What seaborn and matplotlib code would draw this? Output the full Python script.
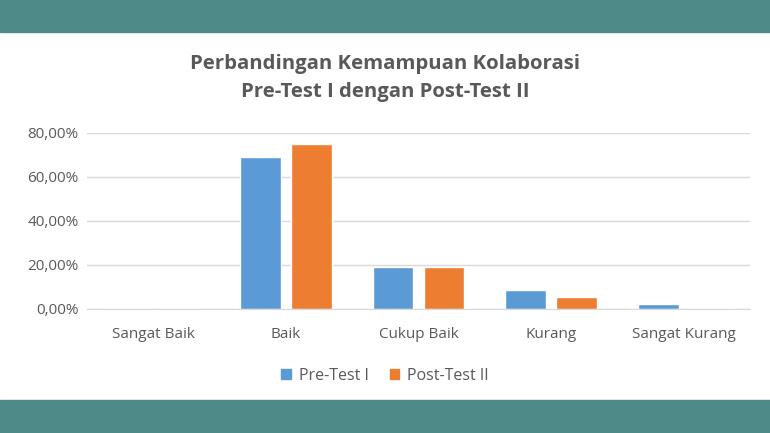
import matplotlib.pyplot as plt
import matplotlib.patches as mpatches
from matplotlib.ticker import FuncFormatter
import pandas as pd
import seaborn as sns

# data (fractions)
categories = ["Sangat Baik", "Baik", "Cukup Baik", "Kurang", "Sangat Kurang"]
pre_test = [0.0, 0.69, 0.19, 0.085, 0.025]
post_test = [0.0, 0.75, 0.19, 0.055, 0.0]
series_names = ["Pre-Test I", "Post-Test II"]

df = pd.DataFrame({
    "Kategori": categories * 2,
    "Nilai": pre_test + post_test,
    "Tes": [series_names[0]] * len(categories) + [series_names[1]] * len(categories),
})

sns.set_style("white")
plt.rcParams['font.family'] = ['Open Sans', 'DejaVu Sans']

teal = "#4E8A87"
text_gray = "#595959"
colors = {"Pre-Test I": "#5B9BD5", "Post-Test II": "#ED7D31"}

fig = plt.figure(figsize=(7.7, 4.33), dpi=100)
fig.patch.set_facecolor("white")
# teal bands top and bottom
fig.patches.append(mpatches.Rectangle((0, 1 - 32 / 433), 1, 32 / 433, transform=fig.transFigure,
                                      color=teal, zorder=0))
fig.patches.append(mpatches.Rectangle((0, 0), 1, 33 / 433, transform=fig.transFigure,
                                      color=teal, zorder=0))

ax = fig.add_axes([87 / 770, 1 - 309 / 433, (750 - 87) / 770, 176 / 433])
sns.barplot(data=df, x="Kategori", y="Nilai", hue="Tes", palette=colors,
            width=0.77, gap=0.2, ax=ax, legend=False, saturation=1)

ax.set_ylim(0, 0.8)
ax.set_yticks([0, 0.2, 0.4, 0.6, 0.8])
ax.yaxis.set_major_formatter(FuncFormatter(lambda v, p: f"{v * 100:.2f}%".replace(".", ",")))
ax.grid(axis="y", color="#D9D9D9", linewidth=1)
ax.set_axisbelow(True)
for s in ["top", "right", "left"]:
    ax.spines[s].set_visible(False)
ax.spines["bottom"].set_color("#D9D9D9")
ax.set_xlabel("")
ax.set_ylabel("")
ax.tick_params(axis="both", length=0, labelsize=11, labelcolor=text_gray)
ax.tick_params(axis="x", pad=13)
ax.tick_params(axis="y", pad=6)

fig.text(0.5, 1 - 78 / 433, "Perbandingan Kemampuan Kolaborasi\nPre-Test I dengan Post-Test II",
         ha="center", va="center", fontsize=14.7, fontweight="bold", color=text_gray,
         linespacing=1.5)

handles = [mpatches.Patch(color=colors[n], label=n) for n in series_names]
fig.legend(handles=handles, loc="center", bbox_to_anchor=(0.5, 1 - 376 / 433), ncol=2,
           frameon=False, fontsize=11.5, handlelength=0.6, handleheight=0.6,
           columnspacing=1.3, handletextpad=0.5, labelcolor=text_gray)

fig.savefig("out.png", dpi=100)
